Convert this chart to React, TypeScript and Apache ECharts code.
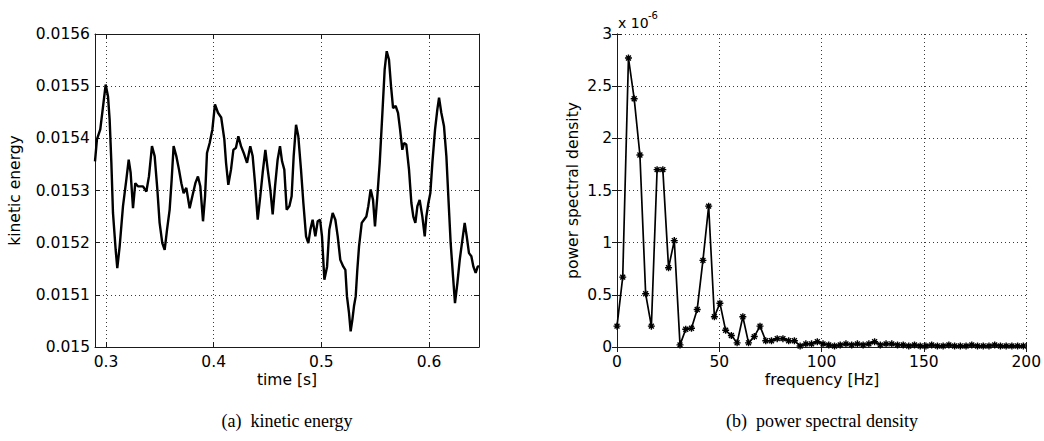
import React, { useEffect, useRef } from "react";
import * as echarts from "echarts";

// ---- (a) kinetic energy time series ----
const timeS = [
  0.2898, 0.2916, 0.2947, 0.2972, 0.2997, 0.3019, 0.3034, 0.305, 0.3065, 0.309,
  0.3105, 0.3127, 0.3158, 0.3189, 0.3211, 0.3229, 0.3251, 0.3272, 0.3297, 0.3316,
  0.3344, 0.3375, 0.3399, 0.3427, 0.3452, 0.3477, 0.3498, 0.3523, 0.3545, 0.3567,
  0.3591, 0.361, 0.3628, 0.3653, 0.3678, 0.37, 0.3721, 0.3746, 0.3777, 0.3802,
  0.383, 0.3854, 0.3876, 0.3901, 0.392, 0.3938, 0.3963, 0.3988, 0.4012, 0.404,
  0.407, 0.4099, 0.4115, 0.4136, 0.4161, 0.4183, 0.4207, 0.4229, 0.4254, 0.4279,
  0.431, 0.434, 0.4362, 0.4384, 0.4409, 0.4433, 0.4455, 0.448, 0.4502, 0.4526,
  0.4548, 0.457, 0.4594, 0.4616, 0.4635, 0.4656, 0.4678, 0.4703, 0.4724, 0.4743,
  0.4765, 0.4786, 0.4811, 0.4833, 0.4858, 0.4879, 0.4898, 0.4919, 0.4944, 0.4966,
  0.4988, 0.5006, 0.5028, 0.5053, 0.5074, 0.5105, 0.513, 0.5152, 0.5176, 0.5204,
  0.5223, 0.5238, 0.5257, 0.5272, 0.5288, 0.5303, 0.5319, 0.5334, 0.535, 0.5375,
  0.5396, 0.5418, 0.5436, 0.5458, 0.548, 0.5498, 0.552, 0.5542, 0.5567, 0.5588,
  0.5607, 0.5628, 0.5647, 0.5666, 0.569, 0.5712, 0.5731, 0.5752, 0.5768, 0.5789,
  0.5814, 0.5836, 0.5854, 0.5873, 0.5892, 0.5913, 0.5938, 0.596, 0.5975, 0.5994,
  0.6012, 0.6031, 0.6056, 0.6077, 0.6093, 0.6114, 0.6139, 0.6161, 0.6179, 0.6201,
  0.6223, 0.6241, 0.6263, 0.6285, 0.631, 0.6331, 0.635, 0.6371, 0.6393, 0.6412,
  0.6433, 0.6452, 0.6464,
];
const kineticEnergy = [
  0.015356, 0.015398, 0.015417, 0.01546, 0.015503, 0.01548, 0.015436, 0.015353, 0.015257, 0.015186,
  0.015151, 0.015193, 0.01527, 0.015321, 0.015359, 0.015334, 0.015266, 0.015314, 0.015308, 0.015308,
  0.015308, 0.015298, 0.015327, 0.015385, 0.015366, 0.015302, 0.015238, 0.015199, 0.015186, 0.015225,
  0.015263, 0.015321, 0.015385, 0.015366, 0.01534, 0.015314, 0.015295, 0.015305, 0.015266, 0.015289,
  0.015314, 0.015327, 0.015308, 0.015241, 0.015289, 0.015372, 0.015391, 0.015417, 0.015465, 0.015449,
  0.01544, 0.015398, 0.015353, 0.015311, 0.01534, 0.015378, 0.015382, 0.015404, 0.015385, 0.015372,
  0.015353, 0.015385, 0.015366, 0.015314, 0.015244, 0.015289, 0.015334, 0.015378, 0.01534, 0.015302,
  0.015254, 0.015308, 0.015359, 0.015385, 0.015356, 0.01534, 0.015263, 0.01527, 0.015289, 0.015366,
  0.015426, 0.015404, 0.01534, 0.015276, 0.015212, 0.015199, 0.015225, 0.015244, 0.015212, 0.015241,
  0.015244, 0.015212, 0.015129, 0.015154, 0.015225, 0.015257, 0.015244, 0.015212, 0.015167, 0.015154,
  0.015148, 0.015097, 0.015065, 0.01503, 0.015052, 0.015078, 0.015097, 0.015148, 0.015193, 0.015238,
  0.015244, 0.01525, 0.01527, 0.015302, 0.015282, 0.015231, 0.015289, 0.015353, 0.015449, 0.015532,
  0.015567, 0.015551, 0.0155, 0.015458, 0.015462, 0.015449, 0.015417, 0.015378, 0.015391, 0.015388,
  0.01534, 0.015276, 0.01525, 0.015238, 0.01527, 0.015282, 0.01525, 0.015212, 0.01525, 0.015276,
  0.015295, 0.015353, 0.015417, 0.015455, 0.015478, 0.015449, 0.015423, 0.015366, 0.015289, 0.015199,
  0.015135, 0.015084, 0.015122, 0.015167, 0.015206, 0.015238, 0.015212, 0.01518, 0.015174, 0.015154,
  0.015142, 0.015154, 0.015155,
];
const timeTicks = [0.3, 0.4, 0.5, 0.6];
const keTicksMin = 0.015;
const keTicksMax = 0.0156;
const keTickStep = 0.0001;

// ---- (b) power spectral density ----
const frequencyHz = [
  0, 2.8, 5.6, 8.4, 11.2, 14.0, 16.8, 19.6, 22.4, 25.2,
  28.0, 30.8, 33.6, 36.4, 39.2, 42.0, 44.8, 47.6, 50.3, 53.1,
  55.9, 58.7, 61.5, 64.3, 67.1, 69.9, 72.7, 75.5, 78.3, 81.1,
  83.9, 86.7, 89.5, 92.3, 95.1, 97.9, 100.7, 103.5, 106.3, 109.1,
  111.9, 114.7, 117.5, 120.3, 123.1, 125.9, 128.7, 131.5, 134.3, 137.1,
  139.9, 142.6, 145.4, 148.2, 151.0, 153.8, 156.6, 159.4, 162.2, 165.0,
  167.8, 170.6, 173.4, 176.2, 179.0, 181.8, 184.6, 187.4, 190.2, 193.0,
  195.8, 198.6,
];
// in units of 1e-6
const psdValues = [
  0.2, 0.67, 2.77, 2.38, 1.84, 0.51, 0.2, 1.7, 1.7, 0.76,
  1.02, 0.02, 0.17, 0.18, 0.36, 0.83, 1.35, 0.29, 0.42, 0.16,
  0.11, 0.04, 0.29, 0.04, 0.1, 0.2, 0.06, 0.06, 0.08, 0.08,
  0.06, 0.06, 0.01, 0.03, 0.03, 0.05, 0.03, 0.02, 0.01, 0.02,
  0.03, 0.02, 0.03, 0.02, 0.03, 0.05, 0.02, 0.03, 0.03, 0.02,
  0.02, 0.01, 0.02, 0.01, 0.01, 0.02, 0.01, 0.01, 0.02, 0.01,
  0.01, 0.01, 0.02, 0.01, 0.01, 0.01, 0.02, 0.01, 0.01, 0.01,
  0.01, 0.01,
];

const SANS = "DejaVu Sans";
const SERIF = "Liberation Serif";
const FS = 15.5;
const AXC = "#1a1a1a";
const GRIDC = "#3a3a3a";

const asterisk =
  "path://M-1,-5 L1,-5 L1,5 L-1,5 Z M-5,-1 L5,-1 L5,1 L-5,1 Z M-4.2,-2.8 L-2.8,-4.2 L4.2,2.8 L2.8,4.2 Z M2.8,-4.2 L4.2,-2.8 L-2.8,4.2 L-4.2,2.8 Z";

export default function App() {
  const ref = useRef<HTMLDivElement>(null);
  useEffect(() => {
    if (!ref.current) return;
    const chart = echarts.init(ref.current, null, { renderer: "svg" });
    const axisLine = { show: true, lineStyle: { color: AXC, width: 1 } };
    const tick = { show: true, inside: true, length: 5, lineStyle: { color: AXC } };
    const label = { color: "#000", fontFamily: SANS, fontSize: FS };
    const split = { show: true, lineStyle: { color: GRIDC, type: [1, 3] as any, width: 1 } };
    const option: any = {
      animation: false,
      backgroundColor: "#fff",
      grid: [
        { left: 95, top: 34, width: 384, height: 313 },
        { left: 617, top: 34, width: 410, height: 313 },
      ],
      xAxis: [
        {
          gridIndex: 0, type: "value", position: "bottom",
          min: timeS[0], max: timeS[timeS.length - 1],
          axisLine, axisTick: { ...tick, customValues: timeTicks },
          axisLabel: { ...label, margin: 7, customValues: timeTicks, formatter: (v: number) => String(+v.toFixed(2)) },
          splitLine: split,
        },
        {
          gridIndex: 0, type: "value", position: "top",
          min: timeS[0], max: timeS[timeS.length - 1],
          axisLine, axisTick: { ...tick, customValues: timeTicks },
          axisLabel: { show: false }, splitLine: { show: false },
        },
        {
          gridIndex: 1, type: "value", position: "bottom",
          min: 0, max: 200, interval: 50,
          axisLine, axisTick: tick,
          axisLabel: { ...label, margin: 7 },
          splitLine: split,
        },
        {
          gridIndex: 1, type: "value", position: "top",
          min: 0, max: 200, interval: 50,
          axisLine, axisTick: tick, axisLabel: { show: false }, splitLine: { show: false },
        },
      ],
      yAxis: [
        {
          gridIndex: 0, type: "value", position: "left",
          min: keTicksMin, max: keTicksMax, interval: keTickStep,
          axisLine, axisTick: tick,
          axisLabel: { ...label, margin: 5, formatter: (v: number) => String(+v.toFixed(5)) },
          splitLine: split,
        },
        {
          gridIndex: 0, type: "value", position: "right",
          min: keTicksMin, max: keTicksMax, interval: keTickStep,
          axisLine, axisTick: tick, axisLabel: { show: false }, splitLine: { show: false },
        },
        {
          gridIndex: 1, type: "value", position: "left",
          min: 0, max: 3, interval: 0.5,
          axisLine, axisTick: tick,
          axisLabel: { ...label, margin: 5 },
          splitLine: split,
        },
        {
          gridIndex: 1, type: "value", position: "right",
          min: 0, max: 3, interval: 0.5,
          axisLine, axisTick: tick, axisLabel: { show: false }, splitLine: { show: false },
        },
      ],
      series: [
        {
          type: "line", xAxisIndex: 0, yAxisIndex: 0,
          data: timeS.map((t, i) => [t, kineticEnergy[i]]),
          showSymbol: false, symbol: "none",
          lineStyle: { color: "#000", width: 2.4 },
        },
        {
          type: "line", xAxisIndex: 2, yAxisIndex: 2,
          data: frequencyHz.map((f, i) => [f, psdValues[i]]),
          symbol: asterisk, symbolSize: 7, showSymbol: true,
          itemStyle: { color: "#000" },
          lineStyle: { color: "#000", width: 1.7 },
        },
      ],
      graphic: [
        {
          type: "text", x: 15, y: 190.5, rotation: Math.PI / 2,
          style: { text: "kinetic energy", font: `${FS}px '${SANS}'`, fill: "#000", align: "center", verticalAlign: "middle" },
        },
        {
          type: "text", x: 573, y: 190.5, rotation: Math.PI / 2,
          style: { text: "power spectral density", font: `${FS}px '${SANS}'`, fill: "#000", align: "center", verticalAlign: "middle" },
        },
        {
          type: "text", x: 287, y: 380,
          style: { text: "time [s]", font: `${FS}px '${SANS}'`, fill: "#000", align: "center", verticalAlign: "middle" },
        },
        {
          type: "text", x: 822, y: 380,
          style: { text: "frequency [Hz]", font: `${FS}px '${SANS}'`, fill: "#000", align: "center", verticalAlign: "middle" },
        },
        {
          type: "text", x: 618, y: 23,
          style: { text: "x 10", font: `14px '${SANS}'`, fill: "#000", align: "left", verticalAlign: "middle" },
        },
        {
          type: "text", x: 648, y: 15,
          style: { text: "-6", font: `10px '${SANS}'`, fill: "#000", align: "left", verticalAlign: "middle" },
        },
        {
          type: "text", x: 287, y: 421,
          style: { text: "(a)  kinetic energy", font: `18px '${SERIF}'`, fill: "#000", align: "center", verticalAlign: "middle" },
        },
        {
          type: "text", x: 822, y: 421,
          style: { text: "(b)  power spectral density", font: `18px '${SERIF}'`, fill: "#000", align: "center", verticalAlign: "middle" },
        },
      ],
    };
    chart.setOption(option);
    return () => chart.dispose();
  }, []);
  return (
    <div
      ref={ref}
      style={{ position: "fixed", left: 0, top: 0, width: 1044, height: 441, background: "#fff" }}
    />
  );
}
